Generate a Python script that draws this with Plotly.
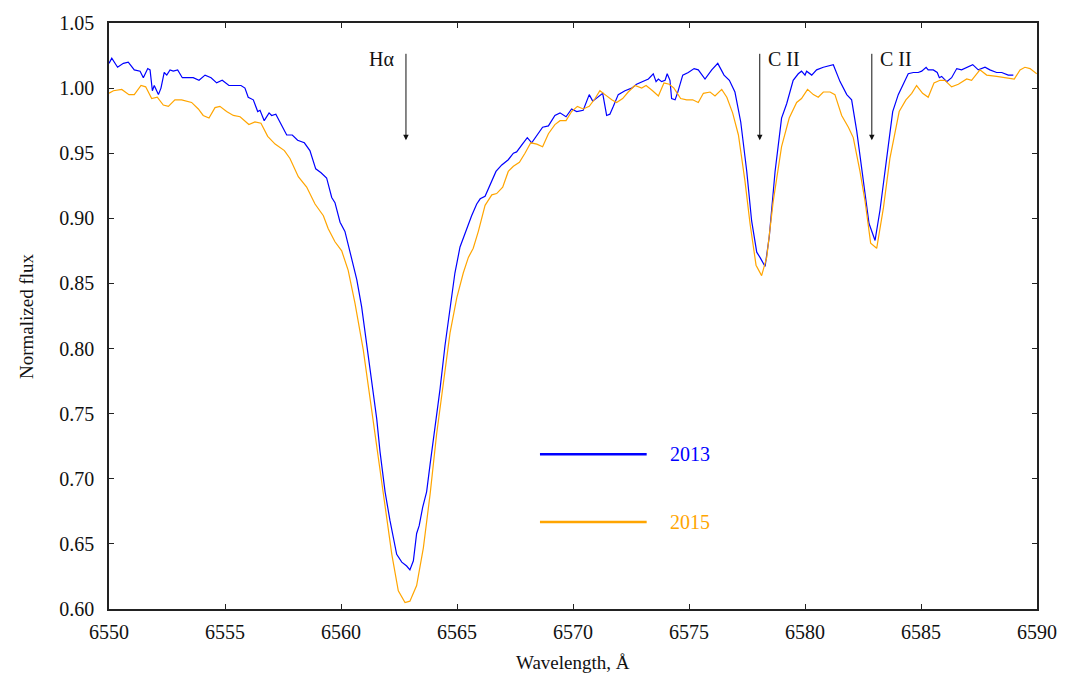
import plotly.graph_objects as go

# Spectrum observed in 2013
wl_2013 = [
    6550.00, 6550.12, 6550.37, 6550.62, 6550.83, 6551.09, 6551.34, 6551.48, 6551.67, 6551.77,
    6551.87, 6551.95, 6552.13, 6552.24, 6552.38, 6552.49, 6552.63, 6552.77, 6552.96, 6553.16,
    6553.39, 6553.63, 6553.88, 6554.14, 6554.40, 6554.64, 6554.88, 6555.17, 6555.43, 6555.69,
    6555.86, 6556.00, 6556.22, 6556.41, 6556.51, 6556.69, 6556.90, 6557.01, 6557.19, 6557.41,
    6557.66, 6557.90, 6558.13, 6558.42, 6558.66, 6558.91, 6559.14, 6559.38, 6559.60, 6559.74,
    6559.96, 6560.17, 6560.39, 6560.68, 6560.89, 6561.11, 6561.32, 6561.54, 6561.68, 6561.90,
    6562.11, 6562.40, 6562.62, 6562.83, 6562.97, 6563.12, 6563.26, 6563.37, 6563.52, 6563.69,
    6563.84, 6564.05, 6564.27, 6564.48, 6564.70, 6564.91, 6565.13, 6565.42, 6565.63, 6565.85,
    6566.00, 6566.21, 6566.42, 6566.68, 6566.93, 6567.21, 6567.43, 6567.57, 6567.86, 6568.03,
    6568.22, 6568.44, 6568.69, 6568.94, 6569.22, 6569.44, 6569.70, 6569.94, 6570.16, 6570.44,
    6570.70, 6570.85, 6571.09, 6571.28, 6571.45, 6571.59, 6571.74, 6571.95, 6572.24, 6572.53,
    6572.74, 6573.03, 6573.25, 6573.46, 6573.58, 6573.68, 6573.82, 6573.97, 6574.06, 6574.18,
    6574.25, 6574.40, 6574.50, 6574.73, 6574.97, 6575.22, 6575.40, 6575.69, 6575.98, 6576.24,
    6576.51, 6576.74, 6576.98, 6577.23, 6577.49, 6577.70, 6577.92, 6578.06, 6578.28, 6578.46,
    6578.71, 6578.99, 6579.21, 6579.49, 6579.71, 6579.85, 6580.00, 6580.07, 6580.29, 6580.50,
    6580.79, 6581.22, 6581.51, 6581.80, 6582.01, 6582.23, 6582.51, 6582.76, 6583.02, 6583.23,
    6583.52, 6583.78, 6584.02, 6584.24, 6584.45, 6584.67, 6584.88, 6585.03, 6585.22, 6585.31,
    6585.53, 6585.70, 6585.79, 6585.89, 6586.11, 6586.32, 6586.54, 6586.75, 6586.97, 6587.23,
    6587.47, 6587.76, 6587.97, 6588.26, 6588.48, 6588.76, 6588.98,
]
flux_2013 = [
    1.019, 1.023, 1.016, 1.019, 1.020, 1.014, 1.013, 1.008, 1.015, 1.014,
    0.998, 1.002, 0.995, 1.000, 1.012, 1.010, 1.014, 1.013, 1.014, 1.008,
    1.008, 1.008, 1.006, 1.010, 1.008, 1.004, 1.006, 1.002, 1.002, 1.002,
    1.000, 0.993, 0.991, 0.982, 0.983, 0.975, 0.981, 0.979, 0.980, 0.972,
    0.964, 0.964, 0.960, 0.958, 0.952, 0.938, 0.935, 0.931, 0.916, 0.912,
    0.897, 0.890, 0.875, 0.853, 0.832, 0.804, 0.777, 0.746, 0.721, 0.690,
    0.668, 0.642, 0.636, 0.633, 0.630, 0.637, 0.658, 0.664, 0.678, 0.690,
    0.711, 0.739, 0.769, 0.802, 0.830, 0.858, 0.878, 0.892, 0.902, 0.911,
    0.915, 0.917, 0.926, 0.936, 0.941, 0.945, 0.950, 0.951, 0.958, 0.962,
    0.958, 0.964, 0.970, 0.971, 0.979, 0.981, 0.978, 0.984, 0.982, 0.983,
    0.995, 0.990, 0.993, 0.996, 0.979, 0.980, 0.986, 0.995, 0.998, 1.000,
    1.003, 1.005, 1.007, 1.011, 1.005, 1.007, 1.005, 1.006, 1.011, 1.006,
    0.992, 0.991, 0.996, 1.010, 1.012, 1.015, 1.014, 1.007, 1.014, 1.019,
    1.010, 1.006, 0.997, 0.974, 0.936, 0.898, 0.874, 0.870, 0.863, 0.886,
    0.936, 0.977, 0.988, 1.006, 1.011, 1.013, 1.010, 1.013, 1.010, 1.014,
    1.016, 1.018, 1.005, 0.995, 0.991, 0.967, 0.929, 0.896, 0.883, 0.906,
    0.946, 0.982, 0.995, 1.003, 1.011, 1.012, 1.012, 1.013, 1.016, 1.014,
    1.014, 1.012, 1.008, 1.009, 1.005, 1.008, 1.015, 1.014, 1.016, 1.018,
    1.014, 1.016, 1.014, 1.012, 1.012, 1.010, 1.010,
]

# Spectrum observed in 2015
wl_2015 = [
    6550.00, 6550.19, 6550.55, 6550.86, 6551.09, 6551.38, 6551.58, 6551.84, 6552.08, 6552.34,
    6552.56, 6552.84, 6553.13, 6553.56, 6553.85, 6554.06, 6554.31, 6554.57, 6554.78, 6555.07,
    6555.36, 6555.65, 6556.03, 6556.29, 6556.55, 6556.84, 6557.16, 6557.56, 6557.80, 6558.16,
    6558.52, 6558.88, 6559.24, 6559.45, 6559.74, 6560.03, 6560.31, 6560.60, 6560.96, 6561.32,
    6561.61, 6561.90, 6562.19, 6562.47, 6562.76, 6562.97, 6563.26, 6563.55, 6563.84, 6564.12,
    6564.41, 6564.70, 6564.99, 6565.27, 6565.49, 6565.70, 6565.92, 6566.21, 6566.50, 6566.71,
    6566.97, 6567.21, 6567.43, 6567.69, 6567.93, 6568.18, 6568.44, 6568.69, 6568.94, 6569.22,
    6569.44, 6569.70, 6569.94, 6570.19, 6570.44, 6570.70, 6570.95, 6571.16, 6571.38, 6571.67,
    6571.88, 6572.14, 6572.38, 6572.67, 6572.96, 6573.15, 6573.43, 6573.68, 6573.92, 6574.15,
    6574.35, 6574.64, 6574.90, 6575.16, 6575.40, 6575.62, 6575.91, 6576.12, 6576.41, 6576.63,
    6576.88, 6577.13, 6577.41, 6577.63, 6577.89, 6578.13, 6578.35, 6578.63, 6578.99, 6579.32,
    6579.64, 6579.85, 6580.11, 6580.36, 6580.57, 6580.79, 6581.08, 6581.29, 6581.58, 6581.87,
    6582.08, 6582.37, 6582.59, 6582.83, 6583.09, 6583.38, 6583.66, 6584.06, 6584.35, 6584.60,
    6584.81, 6585.07, 6585.31, 6585.56, 6585.82, 6586.03, 6586.32, 6586.61, 6586.97, 6587.18,
    6587.54, 6587.83, 6588.26, 6588.62, 6589.02, 6589.27, 6589.48, 6589.70, 6589.99,
]
flux_2015 = [
    0.996, 0.998, 0.999, 0.995, 0.995, 1.002, 1.001, 0.992, 0.993, 0.987,
    0.986, 0.991, 0.991, 0.989, 0.984, 0.979, 0.977, 0.985, 0.986, 0.982,
    0.979, 0.978, 0.972, 0.974, 0.973, 0.963, 0.957, 0.952, 0.946, 0.932,
    0.924, 0.911, 0.902, 0.892, 0.882, 0.875, 0.860, 0.835, 0.799, 0.754,
    0.718, 0.680, 0.642, 0.614, 0.605, 0.606, 0.618, 0.647, 0.688, 0.734,
    0.774, 0.812, 0.839, 0.858, 0.870, 0.877, 0.890, 0.910, 0.918, 0.919,
    0.924, 0.936, 0.940, 0.943, 0.950, 0.958, 0.957, 0.955, 0.965, 0.972,
    0.975, 0.975, 0.982, 0.986, 0.984, 0.986, 0.992, 0.998, 0.995, 0.991,
    0.989, 0.992, 0.997, 1.002, 1.000, 1.002, 0.998, 0.994, 1.004, 1.003,
    1.000, 0.992, 0.991, 0.991, 0.989, 0.996, 0.997, 0.994, 0.999, 0.993,
    0.981, 0.964, 0.929, 0.896, 0.864, 0.856, 0.870, 0.913, 0.955, 0.977,
    0.989, 0.992, 0.999, 0.995, 0.993, 0.997, 0.997, 0.995, 0.979, 0.970,
    0.962, 0.936, 0.913, 0.881, 0.877, 0.908, 0.946, 0.982, 0.991, 0.996,
    1.002, 0.996, 0.993, 1.004, 1.006, 1.006, 1.001, 1.003, 1.007, 1.006,
    1.014, 1.010, 1.009, 1.008, 1.007, 1.014, 1.016, 1.015, 1.011,
]

# Identified spectral lines (rest wavelengths, Å)
line_labels = ["Hα", "C II", "C II"]
line_wavelengths = [6562.80, 6578.05, 6582.88]

x_ticks = [6550, 6555, 6560, 6565, 6570, 6575, 6580, 6585, 6590]
y_ticks = [0.60, 0.65, 0.70, 0.75, 0.80, 0.85, 0.90, 0.95, 1.00, 1.05]

series_names = ["2013", "2015"]
series_colors = ["#0000ff", "#ffa500"]

FONT = "Liberation Serif, Times New Roman, serif"

fig = go.Figure()
fig.add_trace(go.Scatter(x=wl_2013, y=flux_2013, mode="lines", name=series_names[0],
                         line=dict(color=series_colors[0], width=1.2), showlegend=False))
fig.add_trace(go.Scatter(x=wl_2015, y=flux_2015, mode="lines", name=series_names[1],
                         line=dict(color=series_colors[1], width=1.2), showlegend=False))

annotations = []
# Downward arrows marking the lines, with their labels
for label, wl in zip(line_labels, line_wavelengths):
    annotations.append(dict(x=wl, y=0.96, ax=wl, ay=1.0275, xref="x", yref="y",
                            axref="x", ayref="y", text="", showarrow=True,
                            arrowhead=2, arrowsize=1.1, arrowwidth=1, arrowcolor="#111"))
    if label == "Hα":
        annotations.append(dict(x=wl, y=1.0225, xref="x", yref="y", text=label,
                                showarrow=False, xanchor="right", xshift=-10,
                                font=dict(family=FONT, size=20, color="#111")))
    else:
        annotations.append(dict(x=wl, y=1.0225, xref="x", yref="y", text=label,
                                showarrow=False, xanchor="left", xshift=6,
                                font=dict(family=FONT, size=20, color="#111")))

# Hand-placed legend inside the plot area
shapes = []
legend_y = [0.264, 0.1486]
for name, color, ly in zip(series_names, series_colors, legend_y):
    shapes.append(dict(type="line", xref="paper", yref="paper", x0=0.4644, x1=0.5794,
                       y0=ly, y1=ly, line=dict(color=color, width=2.5)))
    annotations.append(dict(x=0.6024, y=ly, xref="paper", yref="paper", text=name,
                            showarrow=False, xanchor="left", yanchor="middle",
                            font=dict(family=FONT, size=20, color=color)))

# Axis titles
annotations.append(dict(x=0.5, y=0, xref="paper", yref="paper", text="Wavelength, Å",
                        showarrow=False, xanchor="center", yanchor="middle", yshift=-53,
                        font=dict(family=FONT, size=19, color="#111")))
annotations.append(dict(x=0, y=0.5, xref="paper", yref="paper", text="Normalized flux",
                        showarrow=False, xanchor="center", yanchor="middle", xshift=-83,
                        textangle=-90, font=dict(family=FONT, size=19, color="#111")))

axis_common = dict(showgrid=False, zeroline=False, showline=True, linecolor="#222",
                   linewidth=1.5, mirror="ticks", ticks="inside", ticklen=5,
                   tickcolor="#222", tickwidth=1,
                   tickfont=dict(family=FONT, size=20, color="#111"))

fig.update_layout(
    width=1080, height=678,
    margin=dict(l=109, r=43, t=17, b=69),
    paper_bgcolor="white", plot_bgcolor="white",
    xaxis=dict(range=[6550, 6590], tickvals=x_ticks, ticklabelstandoff=4,
               ticktext=[str(v) for v in x_ticks], **axis_common),
    yaxis=dict(range=[0.60, 1.05], tickvals=y_ticks, ticklabelstandoff=9,
               ticktext=[f"{v:.2f}" for v in y_ticks], **axis_common),
    annotations=annotations,
    shapes=shapes,
)

fig.write_html("out.html")
